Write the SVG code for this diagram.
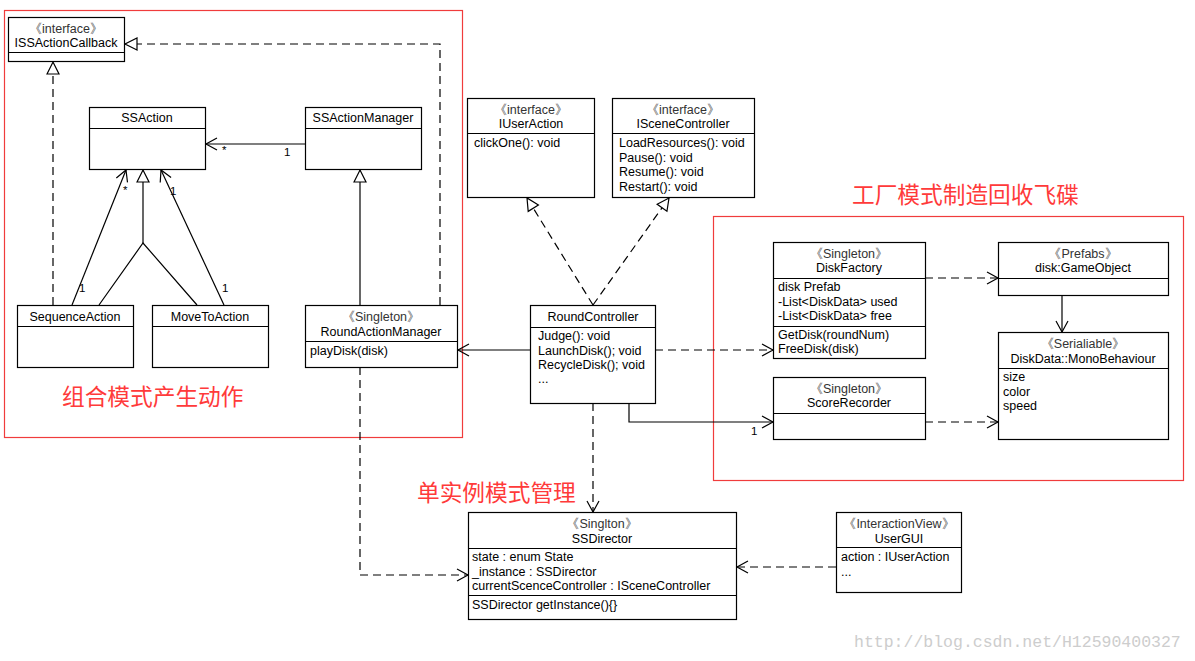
<svg xmlns="http://www.w3.org/2000/svg" width="1195" height="661" viewBox="0 0 1195 661">
<style>
.bg{fill:#fff}
.box{fill:#fff;stroke:#000;stroke-width:1.2}
.div{stroke:#000;stroke-width:1.2}
.frame{fill:none;stroke:#f03c3c;stroke-width:1.2}
text{font-family:"Liberation Sans",Arial,sans-serif;font-size:12.5px;fill:#000}
.c{text-anchor:middle}
.st{fill:#333}
.m{font-size:11.5px}
.cn{font-family:"Noto Sans CJK SC",sans-serif;font-size:22.7px;fill:#ff3a3a}
.wm{font-family:"Liberation Mono",monospace;font-size:16.5px;fill:#cdcdcd}
.ln{fill:none;stroke:#000;stroke-width:1.2}
.dash{fill:none;stroke:#000;stroke-width:1.2;stroke-dasharray:8,5}
.open{marker-end:url(#open)}
.tri{marker-end:url(#tri)}
</style>
<defs>
<marker id="open" markerUnits="userSpaceOnUse" markerWidth="14" markerHeight="14" refX="11" refY="6" orient="auto" overflow="visible">
<path d="M0,0 L11,6 L0,12" fill="none" stroke="#000" stroke-width="1.2"/>
</marker>
<marker id="tri" markerUnits="userSpaceOnUse" markerWidth="14" markerHeight="14" refX="12" refY="6" orient="auto" overflow="visible">
<path d="M0,0 L12,6 L0,12 Z" fill="#fff" stroke="#000" stroke-width="1.2"/>
</marker>
</defs>
<rect class="bg" width="1195" height="661"/>

<!-- frames -->
<rect class="frame" x="4.5" y="10.5" width="458" height="427"/>
<rect class="frame" x="713.5" y="216.5" width="470" height="264"/>
<text class="cn" x="62" y="405">组合模式产生动作</text>
<text class="cn" x="852" y="203">工厂模式制造回收飞碟</text>
<text class="cn" x="417" y="501">单实例模式管理</text>

<!-- connectors -->
<g id="connectors">
<path class="dash tri" d="M53,305 V62"/>
<path class="dash tri" d="M440,305 V44 H125"/>
<path class="ln open" d="M305,144 H206"/>
<path class="ln tri" d="M360,305 V170"/>
<path class="ln open" d="M72,305 L126,170"/>
<path class="ln open" d="M224,305 L161,170"/>
<path class="ln tri" d="M143,243 V170"/>
<path class="ln" d="M99,305 L143,243 L197,305"/>
<path class="dash tri" d="M593,305 L527,198"/>
<path class="dash tri" d="M593,305 L669,198"/>
<path class="ln open" d="M530,350 H458"/>
<path class="dash open" d="M655,350 H773"/>
<path class="ln open" d="M629,403 V422 H773"/>
<path class="dash open" d="M593,403 V512"/>
<path class="dash open" d="M925,278 H998"/>
<path class="ln open" d="M1062,295 V332"/>
<path class="dash open" d="M925,422 H998"/>
<path class="dash open" d="M360,367 V575 H468"/>
<path class="dash open" d="M836,567 H737"/>
<text class="m" x="222" y="154">*</text>
<text class="m" x="284" y="156">1</text>
<text class="m" x="123" y="194">*</text>
<text class="m" x="79" y="292">1</text>
<text class="m" x="170" y="195">1</text>
<text class="m" x="222" y="292">1</text>
<text class="m" x="751" y="435">1</text>
</g>

<g id="ISSActionCallback">
<rect class="box" x="8.5" y="17.5" width="116" height="44"/>
<line class="div" x1="8.5" y1="52.5" x2="124.5" y2="52.5"/>
<text class="c st" x="66" y="33">《interface》</text>
<text class="c" x="66" y="47">ISSActionCallback</text>
</g>

<g id="SSAction">
<rect class="box" x="89.5" y="107.5" width="116" height="62"/>
<line class="div" x1="89.5" y1="128.5" x2="205.5" y2="128.5"/>
<text class="c" x="147" y="122">SSAction</text>
</g>

<g id="SSActionManager">
<rect class="box" x="305.5" y="107.5" width="116" height="62"/>
<line class="div" x1="305.5" y1="128.5" x2="421.5" y2="128.5"/>
<text class="c" x="363" y="122">SSActionManager</text>
</g>

<g id="SequenceAction">
<rect class="box" x="17.5" y="305.5" width="116" height="62"/>
<line class="div" x1="17.5" y1="326.5" x2="133.5" y2="326.5"/>
<text class="c" x="75" y="321">SequenceAction</text>
</g>

<g id="MoveToAction">
<rect class="box" x="152.5" y="305.5" width="116" height="62"/>
<line class="div" x1="152.5" y1="326.5" x2="268.5" y2="326.5"/>
<text class="c" x="210" y="321">MoveToAction</text>
</g>

<g id="RoundActionManager">
<rect class="box" x="305.5" y="305.5" width="152" height="62"/>
<line class="div" x1="305.5" y1="341.5" x2="457.5" y2="341.5"/>
<text class="c st" x="381" y="321">《Singleton》</text>
<text class="c" x="381" y="336">RoundActionManager</text>
<text x="310" y="355">playDisk(disk)</text>
</g>

<g id="IUserAction">
<rect class="box" x="467.5" y="98.5" width="127" height="99"/>
<line class="div" x1="467.5" y1="133.5" x2="594.5" y2="133.5"/>
<text class="c st" x="531" y="114">《interface》</text>
<text class="c" x="531" y="128">IUserAction</text>
<text x="474" y="147">clickOne(): void</text>
</g>

<g id="ISceneController">
<rect class="box" x="612.5" y="98.5" width="142" height="99"/>
<line class="div" x1="612.5" y1="133.5" x2="754.5" y2="133.5"/>
<text class="c st" x="683" y="114">《interface》</text>
<text class="c" x="683" y="128">ISceneController</text>
<text x="619" y="147">LoadResources(): void</text>
<text x="619" y="162">Pause(): void</text>
<text x="619" y="176">Resume(): void</text>
<text x="619" y="191">Restart(): void</text>
</g>

<g id="RoundController">
<rect class="box" x="530.5" y="305.5" width="125" height="98"/>
<line class="div" x1="530.5" y1="327.5" x2="655.5" y2="327.5"/>
<text class="c" x="593" y="321">RoundController</text>
<text x="538" y="340">Judge(): void</text>
<text x="538" y="355">LaunchDisk(); void</text>
<text x="538" y="369">RecycleDisk(); void</text>
<text x="538" y="383">...</text>
</g>

<g id="DiskFactory">
<rect class="box" x="773.5" y="242.5" width="152" height="116"/>
<line class="div" x1="773.5" y1="278.5" x2="925.5" y2="278.5"/>
<line class="div" x1="773.5" y1="326.5" x2="925.5" y2="326.5"/>
<text class="c st" x="849" y="258">《Singleton》</text>
<text class="c" x="849" y="272">DiskFactory</text>
<text x="778" y="291">disk Prefab</text>
<text x="778" y="306">-List&lt;DiskData&gt; used</text>
<text x="778" y="320">-List&lt;DiskData&gt; free</text>
<text x="778" y="339">GetDisk(roundNum)</text>
<text x="778" y="353">FreeDisk(disk)</text>
</g>

<g id="Prefabs">
<rect class="box" x="998.5" y="242.5" width="170" height="53"/>
<line class="div" x1="998.5" y1="278.5" x2="1168.5" y2="278.5"/>
<text class="c st" x="1083" y="258">《Prefabs》</text>
<text class="c" x="1083" y="272">disk:GameObject</text>
</g>

<g id="DiskData">
<rect class="box" x="998.5" y="332.5" width="170" height="107"/>
<line class="div" x1="998.5" y1="368.5" x2="1168.5" y2="368.5"/>
<text class="c st" x="1083" y="348">《Serialiable》</text>
<text class="c" x="1083" y="363">DiskData::MonoBehaviour</text>
<text x="1003" y="381">size</text>
<text x="1003" y="396">color</text>
<text x="1003" y="410">speed</text>
</g>

<g id="ScoreRecorder">
<rect class="box" x="773.5" y="377.5" width="152" height="62"/>
<line class="div" x1="773.5" y1="413.5" x2="925.5" y2="413.5"/>
<text class="c st" x="849" y="393">《Singleton》</text>
<text class="c" x="849" y="407">ScoreRecorder</text>
</g>

<g id="SSDirector">
<rect class="box" x="468.5" y="512.5" width="268" height="107"/>
<line class="div" x1="468.5" y1="548.5" x2="736.5" y2="548.5"/>
<line class="div" x1="468.5" y1="595.5" x2="736.5" y2="595.5"/>
<text class="c st" x="602" y="528">《Singlton》</text>
<text class="c" x="602" y="543">SSDirector</text>
<text x="472" y="561">state : enum State</text>
<text x="472" y="576">_instance : SSDirector</text>
<text x="472" y="590">currentScenceController : ISceneController</text>
<text x="472" y="609">SSDirector getInstance(){}</text>
</g>

<g id="UserGUI">
<rect class="box" x="836.5" y="512.5" width="125" height="80"/>
<line class="div" x1="836.5" y1="547.5" x2="961.5" y2="547.5"/>
<text class="c st" x="899" y="528">《InteractionView》</text>
<text class="c" x="899" y="543">UserGUI</text>
<text x="841" y="561">action : IUserAction</text>
<text x="841" y="576">...</text>
</g>

<text class="wm" x="854" y="647">http://blog.csdn.net/H12590400327</text>
</svg>
